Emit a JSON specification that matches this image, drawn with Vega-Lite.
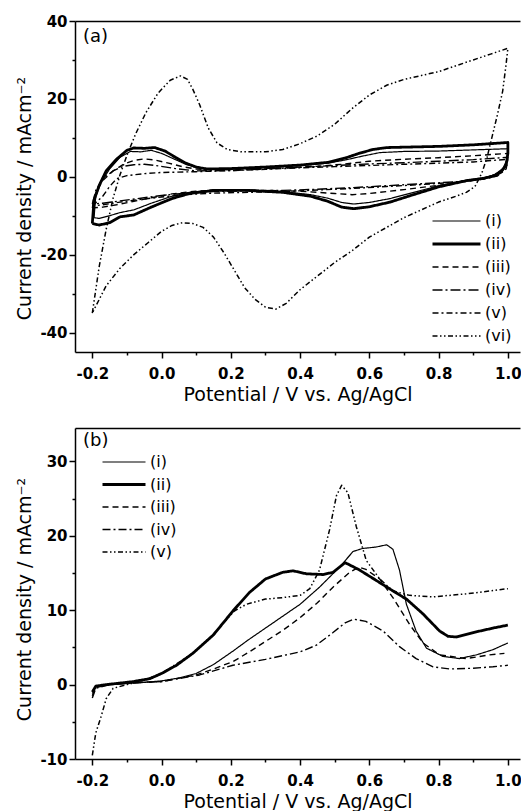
{
"$schema": "https://vega.github.io/schema/vega-lite/v6.json",
"background": "white",
"padding": {"left": 15, "top": 14, "right": 0, "bottom": 0},
"spacing": 24,
"config": {
  "view": {"stroke": null},
  "font": "DejaVu Sans",
  "axis": {"domainColor": "black", "domainWidth": 1.5, "tickColor": "black", "tickWidth": 1.5, "grid": false,
    "labelFont": "DejaVu Sans", "labelFontWeight": "bold", "labelFontSize": 15, "labelColor": "black",
    "titleFont": "DejaVu Sans", "titleFontWeight": "normal", "titleFontSize": 19, "titleColor": "black",
    "labelOverlap": false, "labelFlush": false},
  "legend": {"symbolType": "stroke", "symbolStrokeColor": "black", "clipHeight": 16,
    "labelFont": "DejaVu Sans", "labelFontSize": 16, "labelColor": "black", "labelOffset": 3, "padding": 0, "title": null}
},
"datasets": {
"a": [
{"s":"(vi)","k":1,"E":-0.2,"j":-35},{"s":"(vi)","k":2,"E":-0.18,"j":-23},{"s":"(vi)","k":3,"E":-0.16,"j":-13.5},{"s":"(vi)","k":4,"E":-0.14,"j":-5.5},{"s":"(vi)","k":5,"E":-0.12,"j":0.5},{"s":"(vi)","k":6,"E":-0.1,"j":5.5},{"s":"(vi)","k":7,"E":-0.075,"j":11},{"s":"(vi)","k":8,"E":-0.045,"j":16.5},{"s":"(vi)","k":9,"E":-0.01,"j":21.5},{"s":"(vi)","k":10,"E":0.025,"j":24.8},{"s":"(vi)","k":11,"E":0.055,"j":25.9},{"s":"(vi)","k":12,"E":0.075,"j":25},{"s":"(vi)","k":13,"E":0.09,"j":22.5},{"s":"(vi)","k":14,"E":0.11,"j":18.5},{"s":"(vi)","k":15,"E":0.135,"j":12.5},{"s":"(vi)","k":16,"E":0.16,"j":8.7},{"s":"(vi)","k":17,"E":0.19,"j":7},{"s":"(vi)","k":18,"E":0.23,"j":6.4},{"s":"(vi)","k":19,"E":0.3,"j":6.4},{"s":"(vi)","k":20,"E":0.35,"j":7},{"s":"(vi)","k":21,"E":0.4,"j":8.5},{"s":"(vi)","k":22,"E":0.45,"j":10.5},{"s":"(vi)","k":23,"E":0.5,"j":13.5},{"s":"(vi)","k":24,"E":0.55,"j":17.5},{"s":"(vi)","k":25,"E":0.6,"j":21},{"s":"(vi)","k":26,"E":0.65,"j":23.5},{"s":"(vi)","k":27,"E":0.7,"j":25},{"s":"(vi)","k":28,"E":0.75,"j":26},{"s":"(vi)","k":29,"E":0.8,"j":27},{"s":"(vi)","k":30,"E":0.85,"j":28.5},{"s":"(vi)","k":31,"E":0.9,"j":30},{"s":"(vi)","k":32,"E":0.95,"j":31.5},{"s":"(vi)","k":33,"E":1.0,"j":33},{"s":"(vi)","k":34,"E":0.995,"j":29},{"s":"(vi)","k":35,"E":0.985,"j":22},{"s":"(vi)","k":36,"E":0.97,"j":16},{"s":"(vi)","k":37,"E":0.955,"j":10.5},{"s":"(vi)","k":38,"E":0.94,"j":5},{"s":"(vi)","k":39,"E":0.925,"j":1},{"s":"(vi)","k":40,"E":0.905,"j":-2.5},{"s":"(vi)","k":41,"E":0.88,"j":-4},{"s":"(vi)","k":42,"E":0.85,"j":-5},{"s":"(vi)","k":43,"E":0.8,"j":-6.5},{"s":"(vi)","k":44,"E":0.75,"j":-8.5},{"s":"(vi)","k":45,"E":0.7,"j":-10.5},{"s":"(vi)","k":46,"E":0.65,"j":-13},{"s":"(vi)","k":47,"E":0.6,"j":-15.5},{"s":"(vi)","k":48,"E":0.55,"j":-19},{"s":"(vi)","k":49,"E":0.5,"j":-22},{"s":"(vi)","k":50,"E":0.45,"j":-25.5},{"s":"(vi)","k":51,"E":0.4,"j":-29},{"s":"(vi)","k":52,"E":0.36,"j":-32.5},{"s":"(vi)","k":53,"E":0.33,"j":-34},{"s":"(vi)","k":54,"E":0.3,"j":-33.5},{"s":"(vi)","k":55,"E":0.27,"j":-31.5},{"s":"(vi)","k":56,"E":0.24,"j":-28.5},{"s":"(vi)","k":57,"E":0.21,"j":-24},{"s":"(vi)","k":58,"E":0.18,"j":-19.5},{"s":"(vi)","k":59,"E":0.15,"j":-15.5},{"s":"(vi)","k":60,"E":0.12,"j":-13},{"s":"(vi)","k":61,"E":0.09,"j":-12},{"s":"(vi)","k":62,"E":0.06,"j":-11.8},{"s":"(vi)","k":63,"E":0.03,"j":-12.5},{"s":"(vi)","k":64,"E":0.0,"j":-14},{"s":"(vi)","k":65,"E":-0.04,"j":-17},{"s":"(vi)","k":66,"E":-0.08,"j":-20},{"s":"(vi)","k":67,"E":-0.12,"j":-23.5},{"s":"(vi)","k":68,"E":-0.16,"j":-28},{"s":"(vi)","k":69,"E":-0.2,"j":-35},
{"s":"(ii)","k":1,"E":-0.2,"j":-12},{"s":"(ii)","k":2,"E":-0.195,"j":-6},{"s":"(ii)","k":3,"E":-0.18,"j":-2.2},{"s":"(ii)","k":4,"E":-0.16,"j":1.5},{"s":"(ii)","k":5,"E":-0.13,"j":4.5},{"s":"(ii)","k":6,"E":-0.1,"j":6.8},{"s":"(ii)","k":7,"E":-0.08,"j":7.4},{"s":"(ii)","k":8,"E":-0.05,"j":7.3},{"s":"(ii)","k":9,"E":-0.02,"j":7.5},{"s":"(ii)","k":10,"E":0.01,"j":6.6},{"s":"(ii)","k":11,"E":0.04,"j":5},{"s":"(ii)","k":12,"E":0.07,"j":3.5},{"s":"(ii)","k":13,"E":0.1,"j":2.5},{"s":"(ii)","k":14,"E":0.13,"j":2},{"s":"(ii)","k":15,"E":0.2,"j":2.1},{"s":"(ii)","k":16,"E":0.3,"j":2.5},{"s":"(ii)","k":17,"E":0.4,"j":3},{"s":"(ii)","k":18,"E":0.48,"j":3.7},{"s":"(ii)","k":19,"E":0.53,"j":4.8},{"s":"(ii)","k":20,"E":0.57,"j":6},{"s":"(ii)","k":21,"E":0.61,"j":7},{"s":"(ii)","k":22,"E":0.65,"j":7.5},{"s":"(ii)","k":23,"E":0.7,"j":7.6},{"s":"(ii)","k":24,"E":0.8,"j":7.8},{"s":"(ii)","k":25,"E":0.9,"j":8.2},{"s":"(ii)","k":26,"E":1.0,"j":8.8},{"s":"(ii)","k":27,"E":1.0,"j":6},{"s":"(ii)","k":28,"E":0.995,"j":3},{"s":"(ii)","k":29,"E":0.98,"j":1.2},{"s":"(ii)","k":30,"E":0.96,"j":0.2},{"s":"(ii)","k":31,"E":0.93,"j":-0.4},{"s":"(ii)","k":32,"E":0.88,"j":-1},{"s":"(ii)","k":33,"E":0.8,"j":-2.6},{"s":"(ii)","k":34,"E":0.72,"j":-4.8},{"s":"(ii)","k":35,"E":0.66,"j":-6.5},{"s":"(ii)","k":36,"E":0.6,"j":-7.7},{"s":"(ii)","k":37,"E":0.555,"j":-8.2},{"s":"(ii)","k":38,"E":0.52,"j":-7.8},{"s":"(ii)","k":39,"E":0.48,"j":-6.3},{"s":"(ii)","k":40,"E":0.43,"j":-5},{"s":"(ii)","k":41,"E":0.35,"j":-4},{"s":"(ii)","k":42,"E":0.25,"j":-3.5},{"s":"(ii)","k":43,"E":0.15,"j":-3.5},{"s":"(ii)","k":44,"E":0.08,"j":-4.3},{"s":"(ii)","k":45,"E":0.03,"j":-5.6},{"s":"(ii)","k":46,"E":-0.03,"j":-7.8},{"s":"(ii)","k":47,"E":-0.08,"j":-9.8},{"s":"(ii)","k":48,"E":-0.12,"j":-10.3},{"s":"(ii)","k":49,"E":-0.15,"j":-11.8},{"s":"(ii)","k":50,"E":-0.18,"j":-12.4},{"s":"(ii)","k":51,"E":-0.2,"j":-12},
{"s":"(i)","k":1,"E":-0.195,"j":-10.5},{"s":"(i)","k":2,"E":-0.19,"j":-5},{"s":"(i)","k":3,"E":-0.175,"j":-1.5},{"s":"(i)","k":4,"E":-0.15,"j":2},{"s":"(i)","k":5,"E":-0.12,"j":5},{"s":"(i)","k":6,"E":-0.09,"j":6.5},{"s":"(i)","k":7,"E":-0.06,"j":6.4},{"s":"(i)","k":8,"E":-0.03,"j":6.8},{"s":"(i)","k":9,"E":0.0,"j":6},{"s":"(i)","k":10,"E":0.03,"j":4.8},{"s":"(i)","k":11,"E":0.07,"j":3.2},{"s":"(i)","k":12,"E":0.1,"j":2.4},{"s":"(i)","k":13,"E":0.14,"j":2},{"s":"(i)","k":14,"E":0.2,"j":2},{"s":"(i)","k":15,"E":0.3,"j":2.4},{"s":"(i)","k":16,"E":0.4,"j":2.9},{"s":"(i)","k":17,"E":0.48,"j":3.5},{"s":"(i)","k":18,"E":0.53,"j":4.3},{"s":"(i)","k":19,"E":0.58,"j":5.3},{"s":"(i)","k":20,"E":0.63,"j":6.2},{"s":"(i)","k":21,"E":0.7,"j":6.5},{"s":"(i)","k":22,"E":0.8,"j":6.6},{"s":"(i)","k":23,"E":0.9,"j":6.9},{"s":"(i)","k":24,"E":1.0,"j":7.2},{"s":"(i)","k":25,"E":0.998,"j":4.5},{"s":"(i)","k":26,"E":0.985,"j":2},{"s":"(i)","k":27,"E":0.96,"j":0.5},{"s":"(i)","k":28,"E":0.93,"j":-0.3},{"s":"(i)","k":29,"E":0.88,"j":-0.9},{"s":"(i)","k":30,"E":0.8,"j":-2.3},{"s":"(i)","k":31,"E":0.72,"j":-4.2},{"s":"(i)","k":32,"E":0.66,"j":-5.6},{"s":"(i)","k":33,"E":0.6,"j":-6.6},{"s":"(i)","k":34,"E":0.555,"j":-7},{"s":"(i)","k":35,"E":0.52,"j":-6.6},{"s":"(i)","k":36,"E":0.48,"j":-5.5},{"s":"(i)","k":37,"E":0.43,"j":-4.6},{"s":"(i)","k":38,"E":0.35,"j":-3.8},{"s":"(i)","k":39,"E":0.25,"j":-3.4},{"s":"(i)","k":40,"E":0.15,"j":-3.4},{"s":"(i)","k":41,"E":0.08,"j":-4},{"s":"(i)","k":42,"E":0.03,"j":-5},{"s":"(i)","k":43,"E":-0.03,"j":-6.8},{"s":"(i)","k":44,"E":-0.08,"j":-8.5},{"s":"(i)","k":45,"E":-0.12,"j":-9.2},{"s":"(i)","k":46,"E":-0.15,"j":-10},{"s":"(i)","k":47,"E":-0.18,"j":-10.7},{"s":"(i)","k":48,"E":-0.195,"j":-10.5},
{"s":"(iii)","k":1,"E":-0.2,"j":-8},{"s":"(iii)","k":2,"E":-0.19,"j":-4},{"s":"(iii)","k":3,"E":-0.17,"j":-1},{"s":"(iii)","k":4,"E":-0.14,"j":1.5},{"s":"(iii)","k":5,"E":-0.11,"j":3.2},{"s":"(iii)","k":6,"E":-0.08,"j":4.2},{"s":"(iii)","k":7,"E":-0.05,"j":4.6},{"s":"(iii)","k":8,"E":-0.02,"j":4.3},{"s":"(iii)","k":9,"E":0.02,"j":3.5},{"s":"(iii)","k":10,"E":0.06,"j":2.6},{"s":"(iii)","k":11,"E":0.1,"j":2},{"s":"(iii)","k":12,"E":0.15,"j":1.7},{"s":"(iii)","k":13,"E":0.25,"j":2},{"s":"(iii)","k":14,"E":0.35,"j":2.3},{"s":"(iii)","k":15,"E":0.45,"j":2.7},{"s":"(iii)","k":16,"E":0.52,"j":3.2},{"s":"(iii)","k":17,"E":0.6,"j":4},{"s":"(iii)","k":18,"E":0.7,"j":4.5},{"s":"(iii)","k":19,"E":0.8,"j":4.9},{"s":"(iii)","k":20,"E":0.9,"j":5.4},{"s":"(iii)","k":21,"E":1.0,"j":6},{"s":"(iii)","k":22,"E":0.995,"j":3},{"s":"(iii)","k":23,"E":0.97,"j":0.8},{"s":"(iii)","k":24,"E":0.93,"j":-0.5},{"s":"(iii)","k":25,"E":0.88,"j":-1.2},{"s":"(iii)","k":26,"E":0.8,"j":-2.2},{"s":"(iii)","k":27,"E":0.7,"j":-3.3},{"s":"(iii)","k":28,"E":0.6,"j":-4.3},{"s":"(iii)","k":29,"E":0.55,"j":-4.6},{"s":"(iii)","k":30,"E":0.5,"j":-4.3},{"s":"(iii)","k":31,"E":0.4,"j":-3.7},{"s":"(iii)","k":32,"E":0.3,"j":-3.5},{"s":"(iii)","k":33,"E":0.2,"j":-3.4},{"s":"(iii)","k":34,"E":0.1,"j":-3.7},{"s":"(iii)","k":35,"E":0.03,"j":-4.4},{"s":"(iii)","k":36,"E":-0.03,"j":-5.4},{"s":"(iii)","k":37,"E":-0.08,"j":-6.3},{"s":"(iii)","k":38,"E":-0.13,"j":-7.2},{"s":"(iii)","k":39,"E":-0.17,"j":-7.8},{"s":"(iii)","k":40,"E":-0.2,"j":-8},
{"s":"(iv)","k":1,"E":-0.2,"j":-7},{"s":"(iv)","k":2,"E":-0.19,"j":-3.5},{"s":"(iv)","k":3,"E":-0.17,"j":-0.5},{"s":"(iv)","k":4,"E":-0.14,"j":1.5},{"s":"(iv)","k":5,"E":-0.11,"j":2.7},{"s":"(iv)","k":6,"E":-0.08,"j":3.1},{"s":"(iv)","k":7,"E":-0.05,"j":3.2},{"s":"(iv)","k":8,"E":-0.01,"j":2.8},{"s":"(iv)","k":9,"E":0.04,"j":2.1},{"s":"(iv)","k":10,"E":0.1,"j":1.5},{"s":"(iv)","k":11,"E":0.2,"j":1.6},{"s":"(iv)","k":12,"E":0.3,"j":2},{"s":"(iv)","k":13,"E":0.4,"j":2.4},{"s":"(iv)","k":14,"E":0.5,"j":2.9},{"s":"(iv)","k":15,"E":0.6,"j":3.3},{"s":"(iv)","k":16,"E":0.7,"j":3.6},{"s":"(iv)","k":17,"E":0.8,"j":4},{"s":"(iv)","k":18,"E":0.9,"j":4.4},{"s":"(iv)","k":19,"E":1.0,"j":5},{"s":"(iv)","k":20,"E":0.995,"j":2.5},{"s":"(iv)","k":21,"E":0.97,"j":0.5},{"s":"(iv)","k":22,"E":0.93,"j":-0.5},{"s":"(iv)","k":23,"E":0.85,"j":-1.3},{"s":"(iv)","k":24,"E":0.75,"j":-1.8},{"s":"(iv)","k":25,"E":0.65,"j":-2.3},{"s":"(iv)","k":26,"E":0.55,"j":-2.8},{"s":"(iv)","k":27,"E":0.45,"j":-3.2},{"s":"(iv)","k":28,"E":0.35,"j":-3.5},{"s":"(iv)","k":29,"E":0.25,"j":-3.6},{"s":"(iv)","k":30,"E":0.15,"j":-3.8},{"s":"(iv)","k":31,"E":0.07,"j":-4.2},{"s":"(iv)","k":32,"E":0.0,"j":-4.8},{"s":"(iv)","k":33,"E":-0.06,"j":-5.5},{"s":"(iv)","k":34,"E":-0.12,"j":-6.2},{"s":"(iv)","k":35,"E":-0.17,"j":-6.8},{"s":"(iv)","k":36,"E":-0.2,"j":-7},
{"s":"(v)","k":1,"E":-0.2,"j":-7.5},{"s":"(v)","k":2,"E":-0.17,"j":-5},{"s":"(v)","k":3,"E":-0.15,"j":-2.5},{"s":"(v)","k":4,"E":-0.13,"j":-0.5},{"s":"(v)","k":5,"E":-0.1,"j":0.3},{"s":"(v)","k":6,"E":-0.05,"j":0.8},{"s":"(v)","k":7,"E":0.0,"j":1.1},{"s":"(v)","k":8,"E":0.1,"j":1.3},{"s":"(v)","k":9,"E":0.2,"j":1.6},{"s":"(v)","k":10,"E":0.3,"j":1.9},{"s":"(v)","k":11,"E":0.4,"j":2.3},{"s":"(v)","k":12,"E":0.5,"j":2.6},{"s":"(v)","k":13,"E":0.6,"j":2.9},{"s":"(v)","k":14,"E":0.7,"j":3.2},{"s":"(v)","k":15,"E":0.8,"j":3.5},{"s":"(v)","k":16,"E":0.9,"j":3.8},{"s":"(v)","k":17,"E":1.0,"j":4.5},{"s":"(v)","k":18,"E":0.995,"j":2},{"s":"(v)","k":19,"E":0.97,"j":0.2},{"s":"(v)","k":20,"E":0.93,"j":-0.6},{"s":"(v)","k":21,"E":0.85,"j":-1.4},{"s":"(v)","k":22,"E":0.75,"j":-2},{"s":"(v)","k":23,"E":0.65,"j":-2.5},{"s":"(v)","k":24,"E":0.55,"j":-3},{"s":"(v)","k":25,"E":0.45,"j":-3.4},{"s":"(v)","k":26,"E":0.35,"j":-3.8},{"s":"(v)","k":27,"E":0.25,"j":-4},{"s":"(v)","k":28,"E":0.15,"j":-4.2},{"s":"(v)","k":29,"E":0.07,"j":-4.6},{"s":"(v)","k":30,"E":0.0,"j":-5.2},{"s":"(v)","k":31,"E":-0.06,"j":-5.8},{"s":"(v)","k":32,"E":-0.12,"j":-6.5},{"s":"(v)","k":33,"E":-0.17,"j":-7.2},{"s":"(v)","k":34,"E":-0.2,"j":-7.5}
],
"b": [
{"s":"(i)","k":1,"E":-0.2,"j":-1.2},{"s":"(i)","k":2,"E":-0.19,"j":-0.3},{"s":"(i)","k":3,"E":-0.15,"j":0},{"s":"(i)","k":4,"E":-0.05,"j":0.3},{"s":"(i)","k":5,"E":0.0,"j":0.5},{"s":"(i)","k":6,"E":0.05,"j":0.9},{"s":"(i)","k":7,"E":0.1,"j":1.5},{"s":"(i)","k":8,"E":0.15,"j":2.7},{"s":"(i)","k":9,"E":0.206,"j":4.5},{"s":"(i)","k":10,"E":0.25,"j":6},{"s":"(i)","k":11,"E":0.3,"j":7.6},{"s":"(i)","k":12,"E":0.35,"j":9.2},{"s":"(i)","k":13,"E":0.4,"j":10.8},{"s":"(i)","k":14,"E":0.456,"j":13.1},{"s":"(i)","k":15,"E":0.514,"j":15.8},{"s":"(i)","k":16,"E":0.553,"j":17.9},{"s":"(i)","k":17,"E":0.58,"j":18.3},{"s":"(i)","k":18,"E":0.62,"j":18.5},{"s":"(i)","k":19,"E":0.65,"j":18.8},{"s":"(i)","k":20,"E":0.668,"j":18.2},{"s":"(i)","k":21,"E":0.687,"j":15.4},{"s":"(i)","k":22,"E":0.707,"j":10.8},{"s":"(i)","k":23,"E":0.735,"j":7.2},{"s":"(i)","k":24,"E":0.765,"j":4.9},{"s":"(i)","k":25,"E":0.812,"j":3.8},{"s":"(i)","k":26,"E":0.86,"j":3.5},{"s":"(i)","k":27,"E":0.909,"j":4},{"s":"(i)","k":28,"E":0.957,"j":4.7},{"s":"(i)","k":29,"E":1.0,"j":5.6},
{"s":"(ii)","k":1,"E":-0.2,"j":-1},{"s":"(ii)","k":2,"E":-0.19,"j":-0.2},{"s":"(ii)","k":3,"E":-0.16,"j":0},{"s":"(ii)","k":4,"E":-0.083,"j":0.4},{"s":"(ii)","k":5,"E":-0.034,"j":0.8},{"s":"(ii)","k":6,"E":0.0,"j":1.5},{"s":"(ii)","k":7,"E":0.043,"j":2.6},{"s":"(ii)","k":8,"E":0.09,"j":4.2},{"s":"(ii)","k":9,"E":0.15,"j":6.7},{"s":"(ii)","k":10,"E":0.206,"j":9.9},{"s":"(ii)","k":11,"E":0.254,"j":12.4},{"s":"(ii)","k":12,"E":0.3,"j":14.2},{"s":"(ii)","k":13,"E":0.35,"j":15.1},{"s":"(ii)","k":14,"E":0.38,"j":15.3},{"s":"(ii)","k":15,"E":0.418,"j":14.9},{"s":"(ii)","k":16,"E":0.466,"j":14.8},{"s":"(ii)","k":17,"E":0.495,"j":15.1},{"s":"(ii)","k":18,"E":0.53,"j":16.4},{"s":"(ii)","k":19,"E":0.572,"j":15.4},{"s":"(ii)","k":20,"E":0.62,"j":14},{"s":"(ii)","k":21,"E":0.668,"j":12.6},{"s":"(ii)","k":22,"E":0.707,"j":11.5},{"s":"(ii)","k":23,"E":0.755,"j":9.5},{"s":"(ii)","k":24,"E":0.803,"j":7.2},{"s":"(ii)","k":25,"E":0.827,"j":6.5},{"s":"(ii)","k":26,"E":0.851,"j":6.4},{"s":"(ii)","k":27,"E":0.9,"j":7},{"s":"(ii)","k":28,"E":0.957,"j":7.6},{"s":"(ii)","k":29,"E":1.0,"j":8},
{"s":"(iii)","k":1,"E":-0.2,"j":-1.5},{"s":"(iii)","k":2,"E":-0.19,"j":-0.4},{"s":"(iii)","k":3,"E":-0.15,"j":0},{"s":"(iii)","k":4,"E":-0.1,"j":0.3},{"s":"(iii)","k":5,"E":0.0,"j":0.4},{"s":"(iii)","k":6,"E":0.1,"j":1.3},{"s":"(iii)","k":7,"E":0.15,"j":2.1},{"s":"(iii)","k":8,"E":0.206,"j":3.1},{"s":"(iii)","k":9,"E":0.25,"j":4.3},{"s":"(iii)","k":10,"E":0.3,"j":5.8},{"s":"(iii)","k":11,"E":0.35,"j":7.3},{"s":"(iii)","k":12,"E":0.4,"j":9},{"s":"(iii)","k":13,"E":0.45,"j":11},{"s":"(iii)","k":14,"E":0.495,"j":13.1},{"s":"(iii)","k":15,"E":0.543,"j":15.1},{"s":"(iii)","k":16,"E":0.57,"j":15.8},{"s":"(iii)","k":17,"E":0.59,"j":15.5},{"s":"(iii)","k":18,"E":0.63,"j":14.2},{"s":"(iii)","k":19,"E":0.668,"j":11.7},{"s":"(iii)","k":20,"E":0.716,"j":8.1},{"s":"(iii)","k":21,"E":0.755,"j":5.6},{"s":"(iii)","k":22,"E":0.803,"j":4},{"s":"(iii)","k":23,"E":0.88,"j":3.5},{"s":"(iii)","k":24,"E":0.947,"j":4},{"s":"(iii)","k":25,"E":0.99,"j":4.2},
{"s":"(iv)","k":1,"E":-0.2,"j":-1.8},{"s":"(iv)","k":2,"E":-0.19,"j":-0.5},{"s":"(iv)","k":3,"E":-0.15,"j":0},{"s":"(iv)","k":4,"E":-0.05,"j":0.3},{"s":"(iv)","k":5,"E":0.0,"j":0.4},{"s":"(iv)","k":6,"E":0.11,"j":1.3},{"s":"(iv)","k":7,"E":0.206,"j":2.6},{"s":"(iv)","k":8,"E":0.3,"j":3.4},{"s":"(iv)","k":9,"E":0.4,"j":4.4},{"s":"(iv)","k":10,"E":0.447,"j":5.3},{"s":"(iv)","k":11,"E":0.495,"j":7},{"s":"(iv)","k":12,"E":0.53,"j":8.3},{"s":"(iv)","k":13,"E":0.555,"j":8.8},{"s":"(iv)","k":14,"E":0.59,"j":8.5},{"s":"(iv)","k":15,"E":0.64,"j":7.2},{"s":"(iv)","k":16,"E":0.687,"j":5.1},{"s":"(iv)","k":17,"E":0.735,"j":3.5},{"s":"(iv)","k":18,"E":0.784,"j":2.4},{"s":"(iv)","k":19,"E":0.832,"j":2.1},{"s":"(iv)","k":20,"E":0.9,"j":2.2},{"s":"(iv)","k":21,"E":0.957,"j":2.4},{"s":"(iv)","k":22,"E":1.0,"j":2.6},
{"s":"(v)","k":1,"E":-0.2,"j":-9.5},{"s":"(v)","k":2,"E":-0.19,"j":-6.5},{"s":"(v)","k":3,"E":-0.174,"j":-4.2},{"s":"(v)","k":4,"E":-0.16,"j":-1.9},{"s":"(v)","k":5,"E":-0.14,"j":-0.5},{"s":"(v)","k":6,"E":-0.1,"j":0},{"s":"(v)","k":7,"E":-0.05,"j":0.6},{"s":"(v)","k":8,"E":0.0,"j":1.5},{"s":"(v)","k":9,"E":0.09,"j":4.2},{"s":"(v)","k":10,"E":0.15,"j":6.8},{"s":"(v)","k":11,"E":0.21,"j":9.9},{"s":"(v)","k":12,"E":0.245,"j":10.8},{"s":"(v)","k":13,"E":0.3,"j":11.5},{"s":"(v)","k":14,"E":0.35,"j":11.7},{"s":"(v)","k":15,"E":0.4,"j":12},{"s":"(v)","k":16,"E":0.428,"j":12.9},{"s":"(v)","k":17,"E":0.456,"j":15.4},{"s":"(v)","k":18,"E":0.485,"j":20.8},{"s":"(v)","k":19,"E":0.505,"j":25.4},{"s":"(v)","k":20,"E":0.52,"j":26.8},{"s":"(v)","k":21,"E":0.538,"j":25.8},{"s":"(v)","k":22,"E":0.562,"j":21.3},{"s":"(v)","k":23,"E":0.591,"j":16.7},{"s":"(v)","k":24,"E":0.63,"j":14.2},{"s":"(v)","k":25,"E":0.668,"j":12.6},{"s":"(v)","k":26,"E":0.716,"j":12},{"s":"(v)","k":27,"E":0.784,"j":11.8},{"s":"(v)","k":28,"E":0.88,"j":12.2},{"s":"(v)","k":29,"E":1.0,"j":12.9}
]
},
"vconcat": [
{
  "width": 445, "height": 331,
  "title": {"text": "(a)", "anchor": "start", "frame": "group", "orient": "top", "offset": -32, "dx": 8, "fontSize": 18, "fontWeight": "normal", "font": "DejaVu Sans", "color": "black"},
  "data": {"name": "a"},
  "layer": [
    {"mark": {"type": "line", "color": "black", "strokeCap": "butt", "strokeJoin": "round"},
     "encoding": {
       "x": {"field": "E", "type": "quantitative", "scale": {"domain": [-0.25, 1.035], "nice": false, "zero": false},
         "axis": {"orient": "bottom", "values": [-0.2,-0.1,0,0.1,0.2,0.3,0.4,0.5,0.6,0.7,0.8,0.9,1.0],
           "tickSize": {"condition": {"test": "round(datum.value*10) % 2 != 0", "value": 3}, "value": 6},
           "labelExpr": "round(datum.value*10) % 2 == 0 ? (datum.value < -0.001 ? '-' : '') + format(abs(datum.value), '.1f') : ''",
           "labelPadding": 8, "title": "Potential / V vs. Ag/AgCl", "titlePadding": 4}},
       "y": {"field": "j", "type": "quantitative", "scale": {"domain": [-45, 40], "nice": false, "zero": false},
         "axis": {"orient": "left", "values": [-40,-30,-20,-10,0,10,20,30,40],
           "tickSize": {"condition": {"test": "round(datum.value) % 20 != 0", "value": 3}, "value": 6},
           "labelExpr": "round(datum.value) % 20 == 0 ? (datum.value < 0 ? '-' : '') + format(abs(datum.value), 'd') : ''",
           "labelPadding": 2, "title": "Current density / mAcm⁻²", "titlePadding": 5, "titleY": 177}},
       "order": {"field": "k", "type": "quantitative"},
       "strokeDash": {"field": "s", "type": "nominal",
         "scale": {"domain": ["(i)","(ii)","(iii)","(iv)","(v)","(vi)"], "range": [[1,0],[1,0],[6,4],[10,3,2,3],[6,3,2,3],[5,2.5,1.5,2.5,1.5,2.5]]},
         "legend": {"orient": "bottom-right", "offset": 8, "symbolSize": 2304, "rowPadding": 7}},
       "strokeWidth": {"field": "s", "type": "nominal",
         "scale": {"type": "ordinal", "domain": ["(i)","(ii)","(iii)","(iv)","(v)","(vi)"], "range": [1.2, 2.8, 1.4, 1.4, 1.4, 1.5]},
         "legend": {"orient": "bottom-right", "offset": 8, "symbolSize": 2304, "rowPadding": 7}}
     }},
    {"mark": {"type": "point", "opacity": 0},
     "encoding": {
       "x": {"field": "E", "type": "quantitative", "axis": {"orient": "top", "labels": false, "ticks": false, "domain": true, "title": null}},
       "y": {"field": "j", "type": "quantitative", "axis": null}
     }}
  ],
  "resolve": {"axis": {"x": "independent", "y": "independent"}}
},
{
  "width": 445, "height": 331,
  "title": {"text": "(b)", "anchor": "start", "frame": "group", "orient": "top", "offset": -22, "dx": 8, "fontSize": 18, "fontWeight": "normal", "font": "DejaVu Sans", "color": "black"},
  "data": {"name": "b"},
  "layer": [
    {"mark": {"type": "line", "color": "black", "strokeCap": "butt", "strokeJoin": "round"},
     "encoding": {
       "x": {"field": "E", "type": "quantitative", "scale": {"domain": [-0.25, 1.035], "nice": false, "zero": false},
         "axis": {"orient": "bottom", "values": [-0.2,-0.1,0,0.1,0.2,0.3,0.4,0.5,0.6,0.7,0.8,0.9,1.0],
           "tickSize": {"condition": {"test": "round(datum.value*10) % 2 != 0", "value": 3}, "value": 6},
           "labelExpr": "round(datum.value*10) % 2 == 0 ? (datum.value < -0.001 ? '-' : '') + format(abs(datum.value), '.1f') : ''",
           "labelPadding": 8, "title": "Potential / V vs. Ag/AgCl", "titlePadding": 4}},
       "y": {"field": "j", "type": "quantitative", "scale": {"domain": [-10, 34.5], "nice": false, "zero": false},
         "axis": {"orient": "left", "values": [-10,-5,0,5,10,15,20,25,30],
           "tickSize": {"condition": {"test": "round(datum.value) % 10 != 0", "value": 3}, "value": 6},
           "labelExpr": "round(datum.value) % 10 == 0 ? (datum.value < 0 ? '-' : '') + format(abs(datum.value), 'd') : ''",
           "labelPadding": 2, "title": "Current density / mAcm⁻²", "titlePadding": 5, "titleY": 171}},
       "order": {"field": "k", "type": "quantitative"},
       "strokeDash": {"field": "s", "type": "nominal",
         "scale": {"domain": ["(i)","(ii)","(iii)","(iv)","(v)"], "range": [[1,0],[1,0],[6,4],[8,3,2,3],[5,2.5,1.5,2.5,1.5,2.5]]},
         "legend": {"orient": "top-left", "offset": 26, "symbolSize": 1849, "rowPadding": 6.5}},
       "strokeWidth": {"field": "s", "type": "nominal",
         "scale": {"type": "ordinal", "domain": ["(i)","(ii)","(iii)","(iv)","(v)"], "range": [1.2, 2.8, 1.4, 1.4, 1.5]},
         "legend": {"orient": "top-left", "offset": 26, "symbolSize": 1849, "rowPadding": 6.5}}
     }},
    {"mark": {"type": "point", "opacity": 0},
     "encoding": {
       "x": {"field": "E", "type": "quantitative", "axis": {"orient": "top", "labels": false, "ticks": false, "domain": true, "title": null}},
       "y": {"field": "j", "type": "quantitative", "axis": null}
     }}
  ],
  "resolve": {"axis": {"x": "independent", "y": "independent"}}
}
],
"resolve": {"scale": {"strokeDash": "independent", "strokeWidth": "independent", "x": "independent", "y": "independent"},
            "legend": {"strokeDash": "independent", "strokeWidth": "independent"}}
}
